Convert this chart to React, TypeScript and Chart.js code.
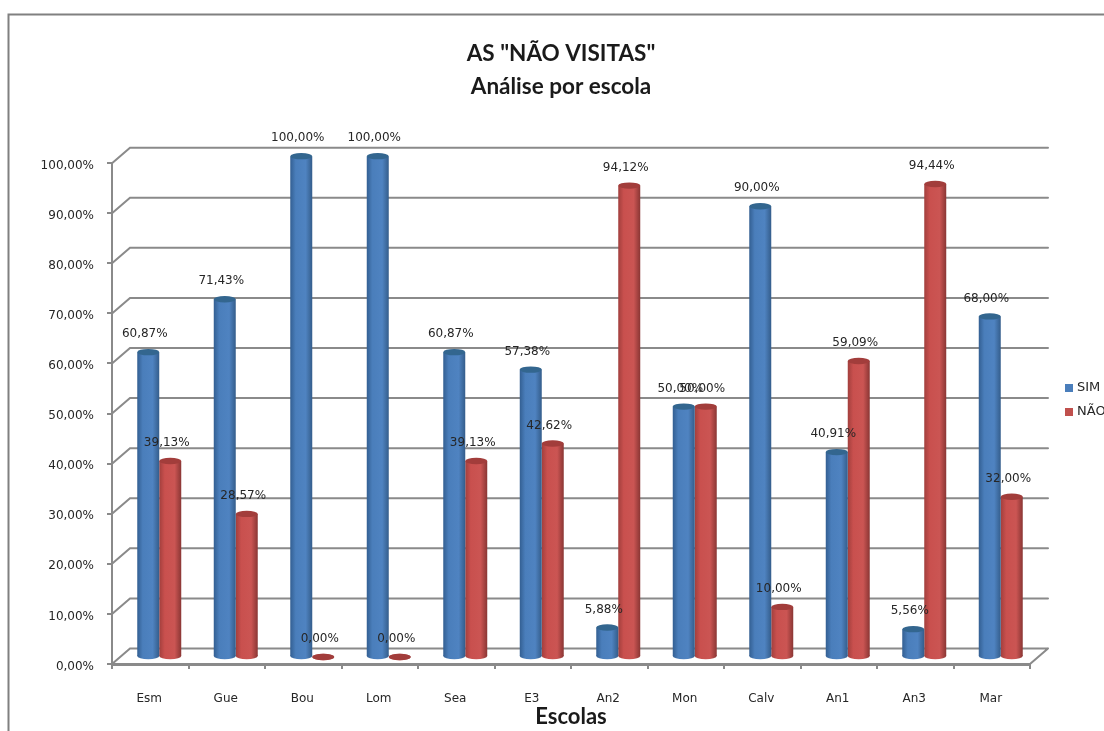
import React, { useEffect, useRef } from "react";
import { Chart, registerables } from "chart.js";

Chart.register(...registerables);

const categories = ["Esm", "Gue", "Bou", "Lom", "Sea", "E3", "An2", "Mon", "Calv", "An1", "An3", "Mar"];
const simValues = [60.87, 71.43, 100, 100, 60.87, 57.38, 5.88, 50, 90, 40.91, 5.56, 68];
const naoValues = [39.13, 28.57, 0, 0, 39.13, 42.62, 94.12, 50, 10, 59.09, 94.44, 32];
const titleLines = ['AS "NÃO VISITAS"', "Análise por escola"];
const seriesNames = ["SIM", "NÃO"];

const GRID = "#8a8a8a";
const TEXT = "#262626";
const BAR_SHIFT_X = 9;
const BAR_SHIFT_Y = -7;
const DEPTH_X = 18;
const DEPTH_Y = -15.5;
const CATEGORY_PCT = 0.575;
const ELLIPSE_RY = 3.2;

const palettes = [
  { solid: "#4a7ebb", top: "#33668f", stops: ["#335f92", "#4a7ebb", "#4f83c1", "#345d8b"] },
  { solid: "#c0504d", top: "#a23d3b", stops: ["#a23f3d", "#c9504e", "#cb5553", "#8a3634"] },
];

const fmt = (v: number) => v.toFixed(2).replace(".", ",") + "%";

function makeGradient(c: CanvasRenderingContext2D, left: number, w: number, ds: number) {
  const p = palettes[ds];
  const g = c.createLinearGradient(left, 0, left + w, 0);
  g.addColorStop(0, p.stops[0]);
  g.addColorStop(0.25, p.stops[1]);
  g.addColorStop(0.7, p.stops[2]);
  g.addColorStop(1, p.stops[3]);
  return g;
}

function barFill(ctx: any) {
  const sx = ctx.chart.scales.x;
  if (!sx || ctx.dataIndex === undefined) return palettes[ctx.datasetIndex].solid;
  const w = (sx.width / categories.length) * CATEGORY_PCT / 2;
  const left = sx.getPixelForValue(ctx.dataIndex) + (ctx.datasetIndex - 1) * w;
  return makeGradient(ctx.chart.ctx, left, w, ctx.datasetIndex);
}

const decor = {
  id: "decor",
  afterLayout(chart: any) {
    const t = chart.titleBlock;
    t.left = 18;
    t.right = 1104;
    const l = chart.legend;
    l.left = 1056.5;
    l.right = 1160;
    l.top = 370.5;
    l.bottom = 440;
  },
  beforeDraw(chart: any) {
    const c = chart.ctx;
    c.save();
    c.fillStyle = "#fff";
    c.fillRect(0, 0, chart.width, chart.height);
    c.strokeStyle = "#808080";
    c.lineWidth = 2;
    c.beginPath();
    c.moveTo(8.5, chart.height);
    c.lineTo(8.5, 14.5);
    c.lineTo(chart.width, 14.5);
    c.stroke();
    c.restore();
  },
  beforeDatasetsDraw(chart: any) {
    const c = chart.ctx;
    const { x: sx, y: sy } = chart.scales;
    c.save();
    c.strokeStyle = GRID;
    c.lineWidth = 2;
    c.lineCap = "round";
    c.beginPath();
    for (const t of sy.ticks) {
      const py = sy.getPixelForValue(t.value);
      c.moveTo(sx.left, py);
      c.lineTo(sx.left + DEPTH_X, py + DEPTH_Y);
      c.lineTo(sx.right + DEPTH_X, py + DEPTH_Y);
    }
    const y0 = sy.getPixelForValue(0);
    c.moveTo(sx.right, y0);
    c.lineTo(sx.right + DEPTH_X, y0 + DEPTH_Y);
    c.stroke();
    c.restore();
    c.save();
    c.translate(BAR_SHIFT_X, BAR_SHIFT_Y);
  },
  afterDatasetsDraw(chart: any) {
    const c = chart.ctx;
    [0, 1].forEach((ds) => {
      const p = palettes[ds];
      chart.getDatasetMeta(ds).data.forEach((el: any) => {
        const rx = el.width / 2;
        c.fillStyle = makeGradient(c, el.x - rx, el.width, ds);
        c.beginPath();
        c.ellipse(el.x, el.base, rx, ELLIPSE_RY, 0, 0, Math.PI * 2);
        c.fill();
        c.fillStyle = p.top;
        c.beginPath();
        c.ellipse(el.x, el.y, rx, ELLIPSE_RY, 0, 0, Math.PI * 2);
        c.fill();
      });
    });
    c.fillStyle = TEXT;
    c.font = '12px "DejaVu Sans"';
    c.textAlign = "center";
    c.textBaseline = "middle";
    [simValues, naoValues].forEach((vals, ds) => {
      chart.getDatasetMeta(ds).data.forEach((el: any, i: number) => {
        c.fillText(fmt(vals[i]), el.x - 3.5, el.y - 18);
      });
    });
    c.restore();
  },
};

export default function App() {
  const ref = useRef<HTMLCanvasElement>(null);
  useEffect(() => {
    if (!ref.current) return;
    const chart = new Chart(ref.current, {
      type: "bar",
      data: {
        labels: categories,
        datasets: [
          { label: seriesNames[0], data: simValues, backgroundColor: barFill, borderWidth: 0 },
          { label: seriesNames[1], data: naoValues, backgroundColor: barFill, borderWidth: 0 },
        ] as any,
      },
      plugins: [decor],
      options: {
        animation: false,
        responsive: false,
        layout: { padding: { left: 0, right: 74, top: 0, bottom: 0 } },
        datasets: { bar: { categoryPercentage: CATEGORY_PCT, barPercentage: 1 } },
        plugins: {
          tooltip: { enabled: false },
          title: {
            display: true,
            text: titleLines,
            color: "#1a1a1a",
            font: { family: "Lato", size: 22.5, weight: "bold", lineHeight: 1.47 },
            padding: { top: 37, bottom: 60 },
          },
          legend: {
            position: "chartArea",
            align: "start",
            labels: {
              boxWidth: 3,
              boxHeight: 3,
              padding: 11,
              color: TEXT,
              font: { family: "DejaVu Sans", size: 13 },
              generateLabels: () =>
                seriesNames.map((text, i) => ({
                  text,
                  fillStyle: palettes[i].solid,
                  strokeStyle: palettes[i].solid,
                  lineWidth: 5,
                  datasetIndex: i,
                  fontColor: TEXT,
                })),
            },
          },
        },
        scales: {
          x: {
            afterFit: (s: any) => {
              s.height = 67;
            },
            border: { display: true, color: GRID, width: 3 },
            grid: { drawOnChartArea: false, drawTicks: true, tickLength: 5, color: GRID, lineWidth: 2, offset: true },
            ticks: { color: TEXT, padding: 23, labelOffset: -1, maxRotation: 0, font: { family: "DejaVu Sans", size: 12 } },
            title: {
              display: true,
              text: "Escolas",
              color: "#1a1a1a",
              font: { family: "Lato", size: 22, weight: "bold", lineHeight: 1.2 },
              padding: { top: 0, bottom: 1 },
            },
          },
          y: {
            min: 0,
            max: 100,
            afterFit: (s: any) => {
              s.width = 112;
            },
            border: { display: true, color: GRID, width: 2 },
            grid: { drawOnChartArea: false, drawTicks: true, tickLength: 5, color: GRID, lineWidth: 2 },
            ticks: {
              stepSize: 10,
              color: TEXT,
              padding: 13,
              labelOffset: 2.5,
              font: { family: "DejaVu Sans", size: 12 },
              callback: (v: any) => fmt(Number(v)),
            },
          },
        },
      } as any,
    });
    return () => chart.destroy();
  }, []);
  return (
    <div style={{ position: "fixed", left: 0, top: 0, width: 1104, height: 731, background: "#fff" }}>
      <canvas ref={ref} width={1104} height={731} style={{ display: "block" }} />
    </div>
  );
}
